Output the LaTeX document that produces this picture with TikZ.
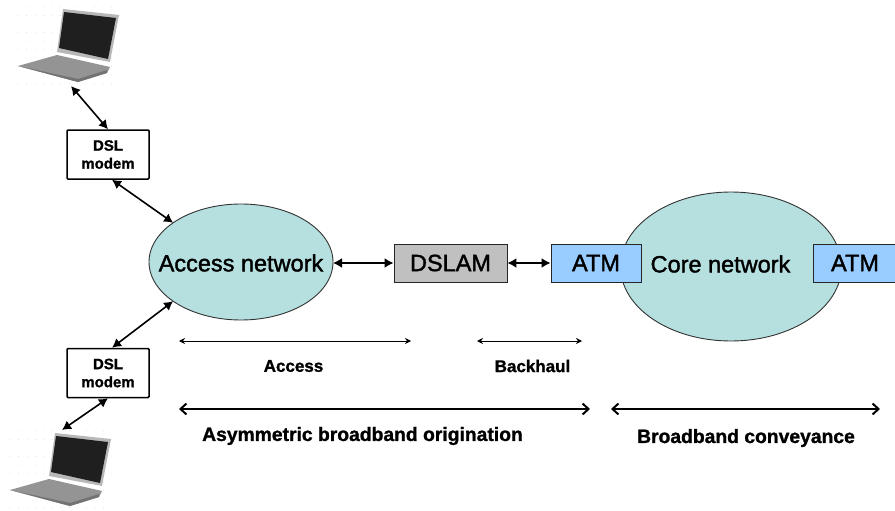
\documentclass[tikz,border=0pt]{standalone}
\usepackage{fontspec}
\setmainfont{Liberation Sans}
\usetikzlibrary{arrows.meta,shapes.geometric}
\definecolor{cloudc}{RGB}{182,224,224}
\definecolor{atmc}{RGB}{153,204,255}
\definecolor{dslamc}{RGB}{192,192,192}
\newfontface\heavy[FakeBold=1.6]{Liberation Sans}
\newfontface\heavybf[FakeBold=1.2]{Liberation Sans Bold}
\tikzset{
  x=1pt,y=-1pt,
  cloud/.style={ellipse,draw=black!80!white,fill=cloudc,line width=.9pt,inner sep=0,outer sep=0},
  modembox/.style={draw=black,fill=white,line width=1.5pt,rounded corners=1pt,minimum width=82,minimum height=49,inner sep=0,align=center,font=\heavybf\fontsize{15}{18}\selectfont},
  eqbox/.style={draw=black!85!white,line width=.9pt,minimum height=38,inner sep=0,font=\heavy\fontsize{23.5}{24}\selectfont},
  bigtext/.style={inner sep=0,font=\heavy\fontsize{23.5}{26}\selectfont},
  biglabel/.style={inner sep=0,font=\heavybf\fontsize{19.3}{22}\selectfont},
  smalllabel/.style={inner sep=0,font=\heavybf\fontsize{17}{20}\selectfont},
  link/.style={{Latex[length=9,width=10]}-{Latex[length=9,width=10]},line width=1.6pt},
  span/.style={{Stealth[length=6,width=6]}-{Stealth[length=6,width=6]},line width=1pt},
  widespan/.style={{Straight Barb[length=6,width=11]}-{Straight Barb[length=6,width=11]},line width=2pt},
}
\newcommand{\laptop}[2]{%
  \begin{scope}[shift={(#1,#2)}]
    \foreach \i in {0,...,12}{\foreach \j in {0,...,9}{\fill[black!18] (\i*8.5,\j*8.5) circle (.45);}}
    \fill[black!42] (0,59) -- (39,48) -- (92,60) -- (89,66) -- (60,75) -- cycle;
    \fill[black!55] (0,59) -- (60,72) -- (89,63) -- (89,66) -- (60,75) -- cycle;
    \fill[black!28] (45,2) -- (101,8) -- (92,55) -- (39,45) -- cycle;
    \fill[black!88] (46,5) -- (98,11) -- (90,52) -- (41,41) -- cycle;
  \end{scope}}
\begin{document}
\begin{tikzpicture}
\useasboundingbox (0,0) rectangle (895,511);
\fill[white] (0,0) rectangle (895,511);
\laptop{18}{7}
\laptop{10}{431}
\coordinate (lapA) at (71,86);
\coordinate (lapB) at (62,430);
\node[modembox] (modemA) at (108,154.5) {DSL\\modem};
\node[modembox] (modemB) at (108,373) {DSL\\modem};
\node[cloud,minimum width=184,minimum height=116] (access) at (241,262) {};
\node[cloud,minimum width=221,minimum height=149] (core) at (731,266.5) {};
\node[bigtext] (accesst) at (241,263) {Access network};
\node[bigtext] (coret) at (720.5,264) {Core network};
\node[eqbox,fill=dslamc,minimum width=113] (dslam) at (450.5,263) {DSLAM};
\node[eqbox,fill=atmc,minimum width=90] (atmA) at (596,263) {ATM};
\node[eqbox,fill=atmc,minimum width=84] (atmB) at (855,263) {ATM};
\draw[link] (lapA) -- (modemA.north);
\draw[link] ([xshift=4]modemA.south) -- (access.150);
\draw[link] (access.210) -- ([xshift=4]modemB.north);
\draw[link] (modemB.south) -- (lapB);
\draw[link] (access.east |- dslam.west) -- (dslam.west);
\draw[link] (dslam.east) -- (atmA.west);
\coordinate (accL) at (179,341); \coordinate (accR) at (411,341);
\coordinate (bhL) at (477,341); \coordinate (bhR) at (582,341);
\coordinate (asL) at (179,409); \coordinate (asR) at (590,409);
\coordinate (bbL) at (611,409); \coordinate (bbR) at (880,409);
\draw[span] (accL) -- (accR);
\draw[span] (bhL) -- (bhR);
\draw[widespan] (asL) -- (asR);
\draw[widespan] (bbL) -- (bbR);
\node[smalllabel] (lacc) at (293.5,366) {Access};
\node[smalllabel] (lbh) at (532.5,366) {Backhaul};
\node[biglabel] (las) at (362.5,436) {Asymmetric broadband origination};
\node[biglabel] (lbb) at (746,438) {Broadband conveyance};
\end{tikzpicture}
\end{document}
